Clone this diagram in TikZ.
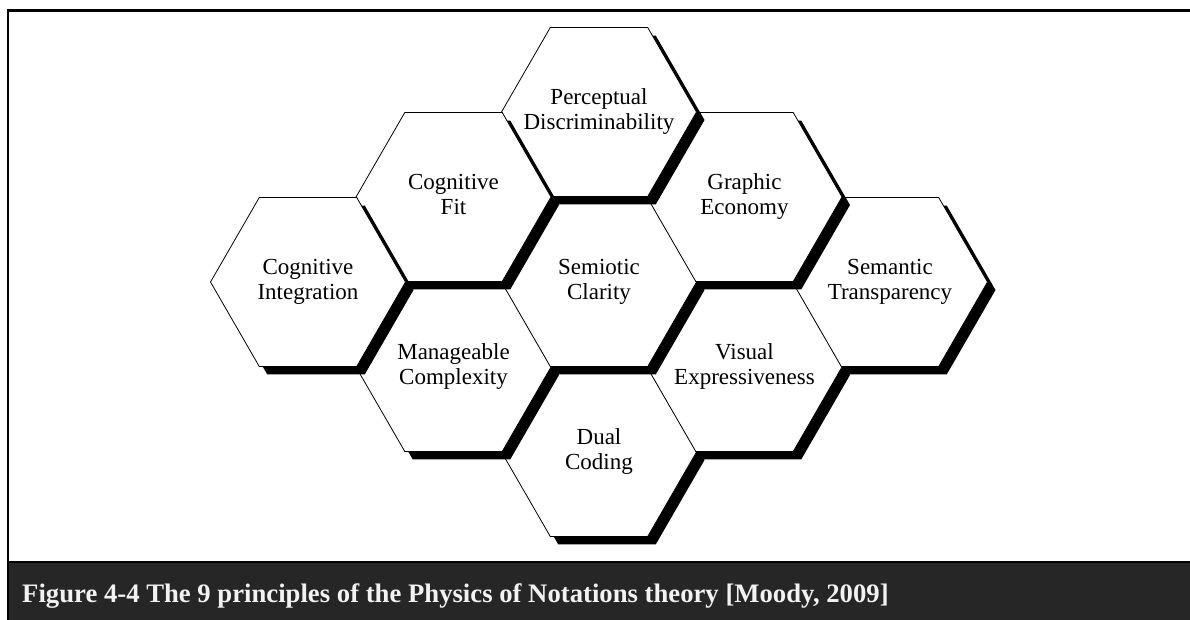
\documentclass[tikz,border=0pt]{standalone}
\usepackage{fontspec}
\setmainfont{Liberation Serif}
\usetikzlibrary{shapes.geometric,shadows}
\definecolor{barfill}{HTML}{262626}
\definecolor{captiontext}{HTML}{F2F2F2}
% two centred lines whose width does not enlarge the hexagon around them
\newcommand{\celltext}[2]{\makebox[0pt]{\begin{tabular}{@{}c@{}}#1\\#2\end{tabular}}}
\begin{document}
\begin{tikzpicture}[x=1pt,y=-1pt,
  hexcell/.style={regular polygon, regular polygon sides=6, minimum size=195pt,
    inner sep=0pt, outer sep=0pt, draw=black, line width=0.8pt, fill=white,
    font=\fontsize{23}{25}\selectfont,
    drop shadow={shadow xshift=8pt, shadow yshift=-8pt, fill=black, opacity=1}},
  frameline/.style={line width=2.4pt, black},
]
\useasboundingbox (0,0) rectangle (1190,619);
\fill[white] (0,0) rectangle (1190,619);

% caption bar
\fill[barfill] (8,562) rectangle (1192,621);
\draw[line width=2pt] (8,561.5) -- (1192,561.5);
\draw[frameline] (8,621) -- (8,10.5) -- (1192,10.5);
\node[anchor=base west, inner sep=0pt, text=captiontext,
  font=\bfseries\fontsize{26.7}{30}\selectfont] (caption) at (22,602)
  {Figure 4-4 The 9 principles of the Physics of Notations theory [Moody, 2009]};

% honeycomb, back to front so each later shadow lies over earlier cells
\node[hexcell] (dc) at (599,452) {\celltext{Dual}{Coding}};
\node[hexcell] (ve) at (744.5,367) {\celltext{Visual}{Expressiveness}};
\node[hexcell] (st) at (890,282) {\celltext{Semantic}{Transparency}};
\node[hexcell] (mc) at (453.5,367) {\celltext{Manageable}{Complexity}};
\node[hexcell] (sc) at (599,282) {\celltext{Semiotic}{Clarity}};
\node[hexcell] (ge) at (744.5,197) {\celltext{Graphic}{Economy}};
\node[hexcell] (pd) at (599,112) {\celltext{Perceptual}{Discriminability}};
\node[hexcell] (cf) at (453.5,197) {\celltext{Cognitive}{Fit}};
\node[hexcell] (ci) at (308,282) {\celltext{Cognitive}{Integration}};
\end{tikzpicture}
\end{document}
